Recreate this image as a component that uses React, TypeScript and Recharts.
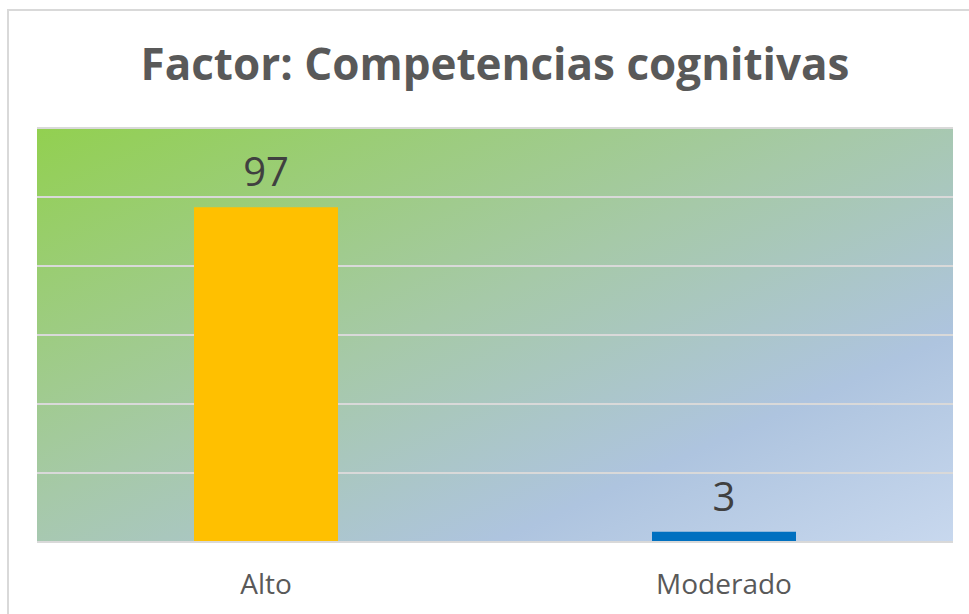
// Gráfico de barras: distribución del factor "Competencias cognitivas".
import { Bar, BarChart, CartesianGrid, Cell, LabelList, XAxis, YAxis } from "recharts";

const CATEGORIES = ["Alto", "Moderado"];
const VALUES = [97, 3];
const COLORS = ["#FFC000", "#0070C0"];
const Y_TICKS = [0, 20, 40, 60, 80, 100, 120];

const FONT = "'Open Sans', 'DejaVu Sans', sans-serif";

export default function App() {
  const data = CATEGORIES.map((name, i) => ({ name, value: VALUES[i], color: COLORS[i] }));

  return (
    <div
      style={{
        position: "absolute",
        left: 7,
        top: 9,
        width: 962,
        height: 605,
        borderTop: "2px solid #d9d9d9",
        borderLeft: "2px solid #d9d9d9",
        background: "#fff",
        fontFamily: FONT,
      }}
    >
      <div
        style={{
          position: "absolute",
          left: 28,
          top: 30,
          width: 916,
          textAlign: "center",
          fontSize: 44,
          lineHeight: 1,
          fontWeight: 700,
          color: "#595959",
          whiteSpace: "nowrap",
        }}
      >
        Factor: Competencias cognitivas
      </div>
      <div style={{ position: "absolute", left: 0, top: 0 }}>
        <BarChart
          width={960}
          height={603}
          data={data}
          margin={{ top: 117, right: 16, bottom: 0, left: 28 }}
        >
          <defs>
            {/* Degradado de relleno del área de trazado: verde arriba-izquierda, azul abajo-derecha. */}
            <linearGradient id="plotBg" x1="0" y1="0" x2="1" y2="1">
              <stop offset="0%" stopColor="#92D050" />
              <stop offset="45%" stopColor="#A6C9A8" />
              <stop offset="75%" stopColor="#AEC4DF" />
              <stop offset="100%" stopColor="#C8D8EE" />
            </linearGradient>
          </defs>
          <CartesianGrid
            vertical={false}
            stroke="#d9d9d9"
            strokeWidth={2}
            fill="url(#plotBg)"
            fillOpacity={1}
          />
          <XAxis
            dataKey="name"
            height={72}
            tickLine={false}
            tickSize={0}
            tickMargin={32}
            axisLine={{ stroke: "#d9d9d9", strokeWidth: 2 }}
            tick={{ fontSize: 28, fill: "#595959", fontFamily: FONT }}
          />
          <YAxis hide domain={[0, 120]} ticks={Y_TICKS} />
          <Bar dataKey="value" barSize={144} isAnimationActive={false}>
            {data.map((d) => (
              <Cell key={d.name} fill={d.color} />
            ))}
            <LabelList
              dataKey="value"
              position="top"
              offset={21}
              style={{ fontSize: 40, fill: "#404040", fontFamily: FONT }}
            />
          </Bar>
        </BarChart>
      </div>
    </div>
  );
}
